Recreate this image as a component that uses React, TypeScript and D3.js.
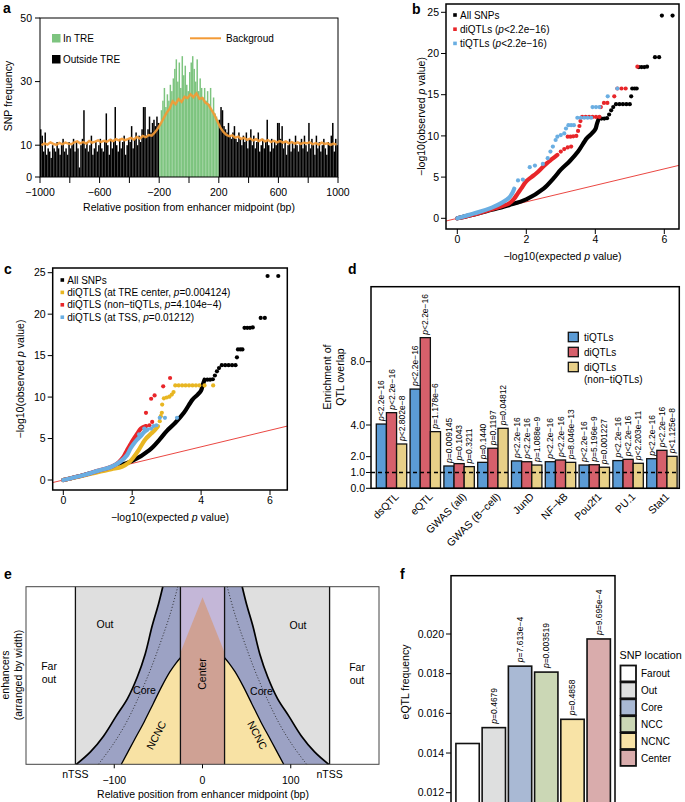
import React from "react";
import * as d3 from "d3";

const FONT = "'Liberation Sans', Arial, Helvetica, sans-serif";
const minus = (s: string | number) => String(s).replace(/-/g, "\u2212");

// ---------- a: SNP frequency around enhancer midpoint (10 bp bins)
const outsideLeft = [
  15, 13, 8, 14, 7, 9, 8, 6, 10, 9,
  8, 11, 9, 7, 10, 12, 8, 9, 7, 11,
  9, 10, 12, 8, 11, 9, 3, 10, 12, 21,
  9, 11, 8, 10, 13, 7, 9, 11, 8, 10,
  12, 9, 8, 11, 20, 10, 7, 12, 9, 11,
  22, 10, 8, 12, 9, 11, 13, 7, 10, 12,
  11, 16, 9, 12, 14, 10, 13, 11, 15, 22,
  22, 13, 15, 19, 14, 17, 18, 16, 19, 17,
];
const inTRE = [
  17, 21, 24, 28, 22, 26, 24, 29, 27, 31,
  34, 37, 30, 36, 28, 38, 32, 35, 29, 27,
  33, 36, 38, 34, 30, 37, 27, 31, 28, 25,
  28, 24, 27, 23, 28, 21, 25, 20, 19, 18,
];
const outsideRight = [
  18, 22, 21, 16, 15, 14, 17, 13, 12, 14,
  16, 12, 11, 14, 12, 10, 13, 11, 14, 9,
  12, 15, 10, 13, 9, 11, 14, 8, 10, 12,
  9, 11, 18, 10, 8, 12, 9, 11, 10, 17,
  17, 12, 16, 9, 11, 7, 10, 12, 8, 11,
  9, 13, 10, 8, 11, 12, 9, 13, 10, 8,
  17, 9, 12, 10, 7, 13, 9, 11, 8, 10,
  12, 9, 7, 11, 10, 13, 17, 8, 12, 10,
];
// background, 20 bp steps
const backgroundFreq = [
  10.0, 10.6, 10.2, 10.9, 10.4, 10.1, 10.7, 10.3, 10.8, 10.5,
  10.3, 10.9, 11.2, 10.6, 11.0, 10.5, 11.3, 10.8, 11.1, 11.5,
  11.0, 11.4, 11.1, 11.7, 11.3, 11.9, 11.5, 12.0, 11.6, 11.9,
  12.3, 11.8, 12.6, 12.1, 12.9, 12.5, 13.2, 13.0, 14.0, 15.2,
  16.8, 18.5, 20.2, 21.5, 23.8, 22.9, 24.5, 23.6, 25.2, 24.8,
  26.0, 25.1, 26.3, 24.6, 24.9, 23.4, 22.8, 21.2, 19.6, 17.5,
  15.6, 14.2, 13.3, 12.8, 13.1, 12.4, 12.7, 12.0, 12.3, 11.7,
  12.1, 11.5, 11.9, 11.3, 11.8, 11.2, 11.6, 11.0, 11.4, 10.9,
  11.3, 10.8, 11.2, 10.6, 11.0, 10.5, 10.9, 10.4, 10.8, 10.6,
  10.9, 10.3, 10.7, 10.2, 10.8, 10.4, 10.6, 10.1, 10.5, 10.2,
];
const aYTicks = [0, 10, 30, 50];
const aXLabels = [-1000, -600, -200, 200, 600, 1000];

// ---------- b / c: QQ plots  [expected, observed]
type Pt = [number, number];
const allDense: Pt[] = [[0, 0], [0.6, 0.6], [1.0, 1.05], [1.5, 1.6], [2.0, 2.3], [2.5, 3.6], [2.8, 4.9], [3.0, 5.9], [3.25, 6.9], [3.5, 8.1], [3.75, 9.7], [3.9, 10.3], [4.0, 10.8], [4.05, 11.5], [4.1, 12.1]];
const allSparse: Pt[] = [[4.18, 12.1], [4.26, 12.1], [4.34, 12.15], [4.4, 12.6], [4.46, 13.1], [4.52, 13.5], [4.6, 13.85], [4.7, 13.85], [4.8, 13.85], [4.9, 13.85], [5.0, 13.85], [5.04, 14.8], [5.07, 15.75], [5.14, 15.75], [5.2, 15.75], [5.26, 18.35], [5.34, 18.35], [5.42, 18.35], [5.5, 18.4], [5.73, 19.55], [5.85, 19.55], [5.93, 24.6], [6.24, 24.6]];

const diDense: Pt[] = [[0, 0], [0.6, 0.6], [1.0, 1.1], [1.3, 1.5], [1.5, 1.8], [1.65, 2.4], [1.75, 3.0], [1.85, 3.6], [2.0, 4.5], [2.15, 5.0], [2.3, 5.5], [2.45, 6.1], [2.6, 6.7], [2.75, 7.2], [2.9, 7.7]];
const diSparse: Pt[] = [[3.0, 8.1], [3.1, 8.4], [3.2, 8.6], [3.3, 8.7], [3.2, 9.9], [3.28, 9.9], [3.36, 9.95], [3.45, 10.0], [3.5, 10.6], [3.54, 11.2], [3.57, 11.8], [3.62, 12.3], [3.72, 12.3], [3.82, 12.3], [3.92, 12.3], [4.02, 12.3], [4.12, 12.3], [4.16, 13.5], [4.25, 14.0], [4.35, 14.0], [4.55, 14.8], [4.64, 15.75], [4.76, 15.75], [4.88, 15.75], [5.22, 18.4]];

const tiDense: Pt[] = [[0, 0], [0.5, 0.6], [1.0, 1.3], [1.3, 1.9], [1.5, 2.5], [1.6, 3.1], [1.65, 3.6]];
const tiSparse: Pt[] = [[1.76, 4.6], [1.9, 4.7], [2.1, 6.2], [2.25, 6.4], [2.48, 6.6], [2.62, 7.3], [2.7, 8.1], [2.77, 8.7], [2.85, 9.5], [2.9, 9.9], [3.0, 10.1], [3.1, 10.3], [3.15, 10.9], [3.22, 11.3], [3.3, 11.3], [3.38, 11.3], [3.48, 12.2], [3.58, 12.2], [3.68, 12.2], [3.78, 12.2], [3.88, 12.2], [3.92, 13.5], [4.02, 13.5], [4.12, 13.5], [4.36, 14.8], [4.64, 15.75]];

const centerDense: Pt[] = [[0, 0], [0.6, 0.55], [1.0, 0.95], [1.4, 1.3], [1.7, 1.6], [1.9, 2.1], [2.05, 2.8], [2.2, 3.7], [2.3, 4.4], [2.4, 5.0], [2.55, 5.6], [2.65, 6.0], [2.75, 6.5]];
const centerSparse: Pt[] = [[2.8, 7.1], [2.83, 7.7], [2.86, 8.1], [2.87, 9.1], [2.92, 9.85], [3.0, 9.95], [3.08, 10.05], [3.15, 10.3], [3.2, 10.6], [3.25, 11.4], [3.35, 11.4], [3.45, 11.4], [3.55, 11.4], [3.65, 11.4], [3.75, 11.4], [3.85, 11.4], [3.95, 11.4], [4.1, 11.4], [4.35, 11.4]];
const nonTiDense: Pt[] = [[0, 0], [0.6, 0.6], [1.0, 1.1], [1.4, 1.6], [1.6, 2.1], [1.75, 2.8], [1.85, 3.6], [1.95, 4.3], [2.05, 5.0], [2.15, 5.6], [2.25, 6.2], [2.4, 6.5]];
const nonTiSparse: Pt[] = [[2.5, 6.6], [2.58, 7.0], [2.4, 8.1], [2.55, 9.8], [2.65, 10.2], [2.9, 11.3], [3.1, 12.3]];
const tssDense: Pt[] = [[0, 0], [0.6, 0.6], [1.0, 1.1], [1.4, 1.6], [1.65, 2.2], [1.85, 3.0], [1.95, 3.8], [2.05, 4.4], [2.15, 4.9], [2.25, 5.3], [2.35, 5.8], [2.45, 6.1]];
const tssSparse: Pt[] = [[2.55, 6.2], [2.62, 6.5], [2.7, 6.6], [2.2, 5.5], [2.8, 7.5], [2.95, 7.5], [3.3, 7.5], [2.35, 6.2]];

// ---------- d: enrichment of QTL overlap
const dGroups = ["dsQTL", "eQTL", "GWAS (all)", "GWAS (B\u2212cell)", "JunD", "NF\u2212kB", "Pou2f1", "PU.1", "Stat1"];
const dSeries = ["tiQTLs", "diQTLs", "diQTLs (non\u2212tiQTLs)"];
const tiEnrich = [4.06, 6.27, 1.41, 1.64, 1.73, 1.68, 1.47, 1.75, 1.87];
const diEnrich = [4.78, 9.52, 1.56, 2.53, 1.68, 1.79, 1.49, 1.83, 2.4];
const nonTiEnrich = [2.8, 3.58, 1.37, 3.79, 1.47, 1.64, 1.33, 1.58, 2.02];
const tiP = ["<2.2e-16", "<2.2e-16", "=0.009145", "=0.1440", "<2.2e-16", "<2.2e-16", "<2.2e-16", "<2.2e-16", "<2.2e-16"];
const diP = ["<2.2e-16", "<2.2e-16", "=0.1043", "=0.1197", "<2.2e-16", "<2.2e-16", "=5.196e-9", "<2.2e-16", "<2.2e-16"];
const nonTiP = ["<2.802e-8", "=1.178e-6", "=0.3211", "=0.04812", "=1.088e-9", "=8.046e-13", "=0.001227", "<2.203e-11", "<1.125e-8"];
const dYTicks = [0, 1, 2, 4, 8];
const dColors = ["#5b9bd5", "#d6606b", "#e8d088"];

// ---------- e: schematic boundaries [bp, fraction of enhancers]
const outerEdge: Pt[] = [[-143, 0], [-127, 0.07], [-112, 0.16], [-98, 0.27], [-85, 0.37], [-74, 0.49], [-65, 0.62], [-57, 0.78], [-50, 0.9], [-45, 1]];
const midCore: Pt[] = [[-118, 0], [-103, 0.1], [-88, 0.22], [-74, 0.36], [-60, 0.52], [-48, 0.68], [-37, 0.84], [-28, 1]];
const innerEdge: Pt[] = [[-92, 0], [-78, 0.13], [-66, 0.24], [-56, 0.34], [-46, 0.44], [-37, 0.52], [-30, 0.57], [-25, 0.6]];
const centerShape: Pt[] = [[-25, 0], [25, 0], [25, 0.63], [0, 0.94], [-25, 0.63]];
const nTSS = 144;
const centerHalf = 25;

// ---------- f: eQTL frequency by SNP location
const fLocations = ["Farout", "Out", "Core", "NCC", "NCNC", "Center"];
const fFreq = [0.01448, 0.01528, 0.01838, 0.01808, 0.0157, 0.01975];
const fP = ["", "=0.4679", "=7.613e-4", "=0.003519", "=0.4858", "=9.695e-4"];
const fColors = ["#ffffff", "#dedfdf", "#a9b9d4", "#cbd7b5", "#f8e3a6", "#d9acac"];
const fYTicks = [0.012, 0.014, 0.016, 0.018, 0.02];

function PLabel({ x, y, text, size = 8.5 }: { x: number; y: number; text: string; size?: number }) {
  return (
    <text transform={`translate(${x},${y}) rotate(-90)`} fontSize={size}>
      <tspan fontStyle="italic">p</tspan>
      {minus(text)}
    </text>
  );
}

function PanelA() {
  const x = d3.scaleLinear().domain([-1000, 1000]).range([40, 338]);
  const y = d3.scaleLinear().domain([0, 50]).range([177, 18]);
  const bins = [
    ...outsideLeft.map((v, i) => ({ s: -1000 + i * 10, v, tre: false })),
    ...inTRE.map((v, i) => ({ s: -200 + i * 10, v, tre: true })),
    ...outsideRight.map((v, i) => ({ s: 200 + i * 10, v, tre: false })),
  ];
  const bw = x(10) - x(0);
  const bg = d3
    .line<number>()
    .x((_, i) => x(-990 + i * 20))
    .y((d) => y(d));
  return (
    <g>
      {bins.map((b, i) => (
        <rect key={i} x={x(b.s)} y={y(b.v)} width={bw} height={y(0) - y(b.v)} fill={b.tre ? "#7dc47f" : "#000"} />
      ))}
      <path d={bg(backgroundFreq) || ""} fill="none" stroke="#f39a35" strokeWidth={2.4} opacity={0.92} />
      <rect x={40} y={18} width={298} height={159} fill="none" stroke="#000" strokeWidth={1} />
      {aYTicks.map((t) => (
        <g key={t}>
          <line x1={35} x2={40} y1={y(t)} y2={y(t)} stroke="#000" />
          <text x={32} y={y(t) + 3.6} fontSize={10.5} textAnchor="end">{t}</text>
        </g>
      ))}
      {d3.range(-1000, 1001, 200).map((t) => (
        <line key={t} x1={x(t)} x2={x(t)} y1={177} y2={183} stroke="#000" />
      ))}
      {aXLabels.map((t) => (
        <text key={t} x={x(t)} y={196} fontSize={10.5} textAnchor="middle">{minus(t)}</text>
      ))}
      <text x={189} y={211} fontSize={10.5} textAnchor="middle">Relative position from enhancer midpoint (bp)</text>
      <text transform="translate(12,96) rotate(-90)" fontSize={10.5} textAnchor="middle">SNP frequency</text>
      <rect x={52} y={34} width={8.5} height={8.5} fill="#7dc47f" />
      <text x={63} y={42} fontSize={10}>In TRE</text>
      <rect x={52} y={55} width={8.5} height={8.5} fill="#000" />
      <text x={63} y={63} fontSize={10}>Outside TRE</text>
      <line x1={190} x2={221} y1={38.3} y2={38.3} stroke="#f39a35" strokeWidth={2} />
      <text x={226} y={42} fontSize={10}>Backgroud</text>
    </g>
  );
}

type Series = { dense: Pt[]; sparse: Pt[]; color: string };

function QQPanel(props: {
  id: string;
  frame: { l: number; r: number; t: number; b: number };
  xRange: [number, number];
  yRange: [number, number];
  series: Series[];
  legend: { color: string; label: React.ReactNode }[];
  legX: number;
  legY: number;
  legStep: number;
  yTitleX: number;
  xTickY: number;
}) {
  const { id, frame, series, legend } = props;
  const x = d3.scaleLinear().domain([0, 6]).range(props.xRange);
  const y = d3.scaleLinear().domain([0, 25]).range(props.yRange);
  const line = d3
    .line<Pt>()
    .x((d) => x(d[0]))
    .y((d) => y(d[1]))
    .curve(d3.curveCatmullRom);
  const diag: Pt[] = [[-1, -1], [8, 8]];
  const straight = d3.line<Pt>().x((d) => x(d[0])).y((d) => y(d[1]));
  const cx = (frame.l + frame.r) / 2;
  return (
    <g>
      <defs>
        <clipPath id={id}>
          <rect x={frame.l} y={frame.t} width={frame.r - frame.l} height={frame.b - frame.t} />
        </clipPath>
      </defs>
      <g clipPath={`url(#${id})`}>
        <path d={straight(diag) || ""} stroke="#e8322c" strokeWidth={0.9} fill="none" />
        {series.map((s, i) => (
          <g key={i}>
            <path d={line(s.dense) || ""} fill="none" stroke={s.color} strokeWidth={4.2} strokeLinecap="round" strokeLinejoin="round" />
            {s.sparse.map((p, j) => (
              <circle key={j} cx={x(p[0])} cy={y(p[1])} r={2.1} fill={s.color} />
            ))}
          </g>
        ))}
      </g>
      <rect x={frame.l} y={frame.t} width={frame.r - frame.l} height={frame.b - frame.t} fill="none" stroke="#000" strokeWidth={1.5} />
      {d3.range(0, 26, 5).map((t) => (
        <g key={t}>
          <line x1={frame.l - 5} x2={frame.l} y1={y(t)} y2={y(t)} stroke="#000" />
          <text x={frame.l - 7} y={y(t) + 3.6} fontSize={10.5} textAnchor="end">{t}</text>
        </g>
      ))}
      {[0, 2, 4, 6].map((t) => (
        <g key={t}>
          <line x1={x(t)} x2={x(t)} y1={frame.b} y2={frame.b + 5} stroke="#000" />
          <text x={x(t)} y={props.xTickY} fontSize={10.5} textAnchor="middle">{t}</text>
        </g>
      ))}
      <text x={cx} y={props.xTickY + 17} fontSize={10.5} textAnchor="middle">
        {"\u2212log10(expected "}<tspan fontStyle="italic">p</tspan>{" value)"}
      </text>
      <text transform={`translate(${props.yTitleX},${(frame.t + frame.b) / 2}) rotate(-90)`} fontSize={10.5} textAnchor="middle">
        {"\u2212log10(observed "}<tspan fontStyle="italic">p</tspan>{" value)"}
      </text>
      {legend.map((l, i) => (
        <g key={i}>
          <rect x={props.legX - 1.8} y={props.legY + i * props.legStep - 1.8} width={3.6} height={3.6} fill={l.color} />
          <text x={props.legX + 5} y={props.legY + i * props.legStep + 3.6} fontSize={10}>{l.label}</text>
        </g>
      ))}
    </g>
  );
}

function PanelD() {
  const x = d3.scaleBand<string>().domain(dGroups).range([374.6, 678.8]).paddingInner(0.1).paddingOuter(0.05);
  const xs = d3.scaleBand<number>().domain([0, 1, 2]).range([0, x.bandwidth()]);
  const y = d3.scaleLinear().domain([0, 8]).range([488.3, 361.7]);
  const values = [tiEnrich, diEnrich, nonTiEnrich];
  const pvals = [tiP, diP, nonTiP];
  const L = 371, R = 679.3, T = 286.7, B = 488.3;
  return (
    <g>
      {dGroups.map((g, gi) =>
        values.map((vals, si) => {
          const bx = (x(g) || 0) + (xs(si) || 0);
          return (
            <g key={g + si}>
              <rect x={bx} y={y(vals[gi])} width={xs.bandwidth()} height={B - y(vals[gi])} fill={dColors[si]} stroke="#111" strokeWidth={1.3} />
              <PLabel x={bx + xs.bandwidth() / 2 + 3} y={y(vals[gi]) - 3} text={pvals[si][gi]} />
            </g>
          );
        })
      )}
      <line x1={L} x2={R} y1={y(1)} y2={y(1)} stroke="#000" strokeWidth={1.5} strokeDasharray="4,3" />
      <rect x={L} y={T} width={R - L} height={B - T} fill="none" stroke="#000" strokeWidth={1.5} />
      {dYTicks.map((t) => (
        <g key={t}>
          <line x1={L - 5} x2={L} y1={y(t)} y2={y(t)} stroke="#000" />
          <text x={L - 6} y={y(t) + 3.6} fontSize={10.5} textAnchor="end">{t.toFixed(1)}</text>
        </g>
      ))}
      {dGroups.map((g) => (
        <text key={g} transform={`translate(${(x(g) || 0) + x.bandwidth() / 2 + 8},${B + 9}) rotate(-45)`} fontSize={10.5} textAnchor="end">
          {g}
        </text>
      ))}
      <text transform="translate(331,377) rotate(-90)" fontSize={10.5} textAnchor="middle">Enrichment of</text>
      <text transform="translate(344,377) rotate(-90)" fontSize={10.5} textAnchor="middle">QTL overlap</text>
      {dColors.map((c, i) => (
        <g key={c}>
          <rect x={568.3} y={332.3 + i * 15} width={10} height={9.4} fill={c} stroke="#111" strokeWidth={1.3} />
          <text x={584} y={341.2 + i * 15} fontSize={10}>{i === 0 ? "tiQTLs" : "diQTLs"}</text>
        </g>
      ))}
      <text x={584} y={383} fontSize={10}>{`(${dSeries[2].split("(")[1]}`}</text>
    </g>
  );
}

function PanelE() {
  const x = d3.scaleLinear().domain([-200, 200]).range([26, 379]);
  const y = d3.scaleLinear().domain([0, 1]).range([764.3, 586.7]);
  const curve = d3
    .line<Pt>()
    .x((d) => x(d[0]))
    .y((d) => y(d[1]))
    .curve(d3.curveCatmullRom);
  const flat = d3.line<Pt>().x((d) => x(d[0])).y((d) => y(d[1]));
  const mirror = (pts: Pt[]): Pt[] => pts.map(([a, b]) => [-a, b] as Pt);
  const corePath = (pts: Pt[], s: number) => `${curve(pts)}L${x(s * centerHalf)},${y(1)}L${x(s * centerHalf)},${y(0)}Z`;
  const ncncPath = (pts: Pt[], s: number) => `${curve(pts)}L${x(s * centerHalf)},${y(0)}Z`;
  const T = y(1), B = y(0);
  return (
    <g>
      <rect x={x(-200)} y={T} width={x(200) - x(-200)} height={B - T} fill="#fff" />
      <rect x={x(-nTSS)} y={T} width={x(nTSS) - x(-nTSS)} height={B - T} fill="#dfdfdf" />
      <path d={corePath(outerEdge, -1)} fill="#9ca2c4" />
      <path d={corePath(mirror(outerEdge), 1)} fill="#9ca2c4" />
      <path d={ncncPath(innerEdge, -1)} fill="#f8e2a4" />
      <path d={ncncPath(mirror(innerEdge), 1)} fill="#f8e2a4" />
      <rect x={x(-centerHalf)} y={T} width={x(centerHalf) - x(-centerHalf)} height={B - T} fill="#c4b7d8" />
      <path d={(flat(centerShape) || "") + "Z"} fill="#cfa194" />
      <path d={curve(midCore) || ""} fill="none" stroke="#222" strokeWidth={0.9} strokeDasharray="1,2" />
      <path d={curve(mirror(midCore)) || ""} fill="none" stroke="#222" strokeWidth={0.9} strokeDasharray="1,2" />
      <path d={curve(outerEdge) || ""} fill="none" stroke="#000" strokeWidth={1.7} />
      <path d={curve(mirror(outerEdge)) || ""} fill="none" stroke="#000" strokeWidth={1.7} />
      <path d={curve(innerEdge) || ""} fill="none" stroke="#000" strokeWidth={1.3} />
      <path d={curve(mirror(innerEdge)) || ""} fill="none" stroke="#000" strokeWidth={1.3} />
      {[-nTSS, -centerHalf, centerHalf, nTSS].map((v) => (
        <line key={v} x1={x(v)} x2={x(v)} y1={T} y2={B} stroke="#111" strokeWidth={1.3} />
      ))}
      <rect x={x(-200)} y={T} width={x(200) - x(-200)} height={B - T} fill="none" stroke="#444" strokeWidth={1} />
      {[-100, 0, 100].map((t) => (
        <g key={t}>
          <line x1={x(t)} x2={x(t)} y1={B} y2={B + 4} stroke="#000" />
          <text x={x(t)} y={784} fontSize={10.5} textAnchor="middle">{minus(t)}</text>
        </g>
      ))}
      <text x={x(-nTSS)} y={777.5} fontSize={10.5} textAnchor="middle">nTSS</text>
      <text x={x(nTSS)} y={777.5} fontSize={10.5} textAnchor="middle">nTSS</text>
      <text x={203} y={797.5} fontSize={10.5} textAnchor="middle">Relative position from enhancer midpoint (bp)</text>
      <text transform="translate(9,675) rotate(-90)" fontSize={10.5} textAnchor="middle">enhancers</text>
      <text transform="translate(22,675) rotate(-90)" fontSize={10.5} textAnchor="middle">(arranged by width)</text>
      <g fontSize={10.5} textAnchor="middle">
        <text x={105} y={628}>Out</text>
        <text x={298} y={628.5}>Out</text>
        <text x={49} y={669.5}>Far</text>
        <text x={49} y={682.5}>out</text>
        <text x={357} y={670.5}>Far</text>
        <text x={357} y={683.5}>out</text>
        <text x={144.5} y={693.5}>Core</text>
        <text x={261.5} y={695}>Core</text>
        <text transform="translate(206,674) rotate(-90)">Center</text>
        <text transform="translate(159.5,737) rotate(-62)">NCNC</text>
        <text transform="translate(254,737) rotate(62)">NCNC</text>
      </g>
    </g>
  );
}

function PanelF() {
  const x = d3.scaleBand<string>().domain(fLocations).range([454.6, 611.7]).paddingInner(0.11).paddingOuter(0.05);
  const y = d3.scaleLinear().domain([0.012, 0.02]).range([792.7, 634]);
  const L = 451, R = 615, T = 575.7, B = 801;
  return (
    <g>
      {fLocations.map((loc, i) => (
        <g key={loc}>
          <rect x={x(loc)} y={y(fFreq[i])} width={x.bandwidth()} height={B - y(fFreq[i]) + 4} fill={fColors[i]} stroke="#111" strokeWidth={1.6} />
          {fP[i] && <PLabel x={(x(loc) || 0) + x.bandwidth() / 2 + 3} y={y(fFreq[i]) - 4} text={fP[i]} />}
        </g>
      ))}
      <rect x={L} y={T} width={R - L} height={B - T + 4} fill="none" stroke="#000" strokeWidth={1.5} />
      {fYTicks.map((t) => (
        <g key={t}>
          <line x1={L - 5} x2={L} y1={y(t)} y2={y(t)} stroke="#000" />
          <text x={L - 7} y={y(t) + 3.6} fontSize={10.5} textAnchor="end">{t.toFixed(3)}</text>
        </g>
      ))}
      <text transform="translate(409,682) rotate(-90)" fontSize={10.5} textAnchor="middle">eQTL frequency</text>
      <text x={619.5} y={658.5} fontSize={10.8}>SNP location</text>
      {fLocations.map((loc, i) => (
        <g key={loc}>
          <rect x={620.5} y={665.5 + i * 16.9} width={15.5} height={15.9} fill={fColors[i]} stroke="#111" strokeWidth={1.8} />
          <text x={641} y={677 + i * 16.9} fontSize={10}>{loc}</text>
        </g>
      ))}
    </g>
  );
}

export default function App() {
  const pl = (s: string) => (
    <>
      {s.split("p")[0]}
      <tspan fontStyle="italic">p</tspan>
      {s.split("p").slice(1).join("p")}
    </>
  );
  return (
    <div style={{ position: "absolute", left: 0, top: 0 }}>
      <svg width={685} height={802} fontFamily={FONT} style={{ display: "block", background: "#fff" }}>
        <g fontWeight="bold" fontSize={14}>
          <text x={3} y={13}>a</text>
          <text x={412} y={14}>b</text>
          <text x={4} y={274}>c</text>
          <text x={348} y={274}>d</text>
          <text x={4} y={579}>e</text>
          <text x={400} y={579}>f</text>
        </g>
        <PanelA />
        <QQPanel
          id="qqb"
          frame={{ l: 446, r: 679, t: 4, b: 229 }}
          xRange={[457.3, 664.3]}
          yRange={[218.3, 12.3]}
          series={[
            { dense: allDense, sparse: allSparse, color: "#000" },
            { dense: diDense, sparse: diSparse, color: "#e8262a" },
            { dense: tiDense, sparse: tiSparse, color: "#6aaee2" },
          ]}
          legend={[
            { color: "#000", label: "All SNPs" },
            { color: "#e8262a", label: <>diQTLs (<tspan fontStyle="italic">p</tspan>{"<2.2e\u221216)"}</> },
            { color: "#6aaee2", label: <>tiQTLs (<tspan fontStyle="italic">p</tspan>{"<2.2e\u221216)"}</> },
          ]}
          legX={455}
          legY={15}
          legStep={14.2}
          yTitleX={425}
          xTickY={243}
        />
        <QQPanel
          id="qqc"
          frame={{ l: 52.7, r: 287.3, t: 268, b: 490 }}
          xRange={[63.3, 270]}
          yRange={[480, 272.7]}
          series={[
            { dense: allDense, sparse: allSparse, color: "#000" },
            { dense: centerDense, sparse: centerSparse, color: "#e8b622" },
            { dense: nonTiDense, sparse: nonTiSparse, color: "#e8262a" },
            { dense: tssDense, sparse: tssSparse, color: "#6aaee2" },
          ]}
          legend={[
            { color: "#000", label: "All SNPs" },
            { color: "#e8b622", label: pl("diQTLS (at TRE center, p=0.004124)") },
            { color: "#e8262a", label: pl("diQTLS (non\u2212tiQTLs, p=4.104e\u22124)") },
            { color: "#6aaee2", label: pl("diQTLS (at TSS, p=0.01212)") },
          ]}
          legX={62.3}
          legY={280}
          legStep={12.4}
          yTitleX={24}
          xTickY={504}
        />
        <PanelD />
        <PanelE />
        <PanelF />
      </svg>
    </div>
  );
}
